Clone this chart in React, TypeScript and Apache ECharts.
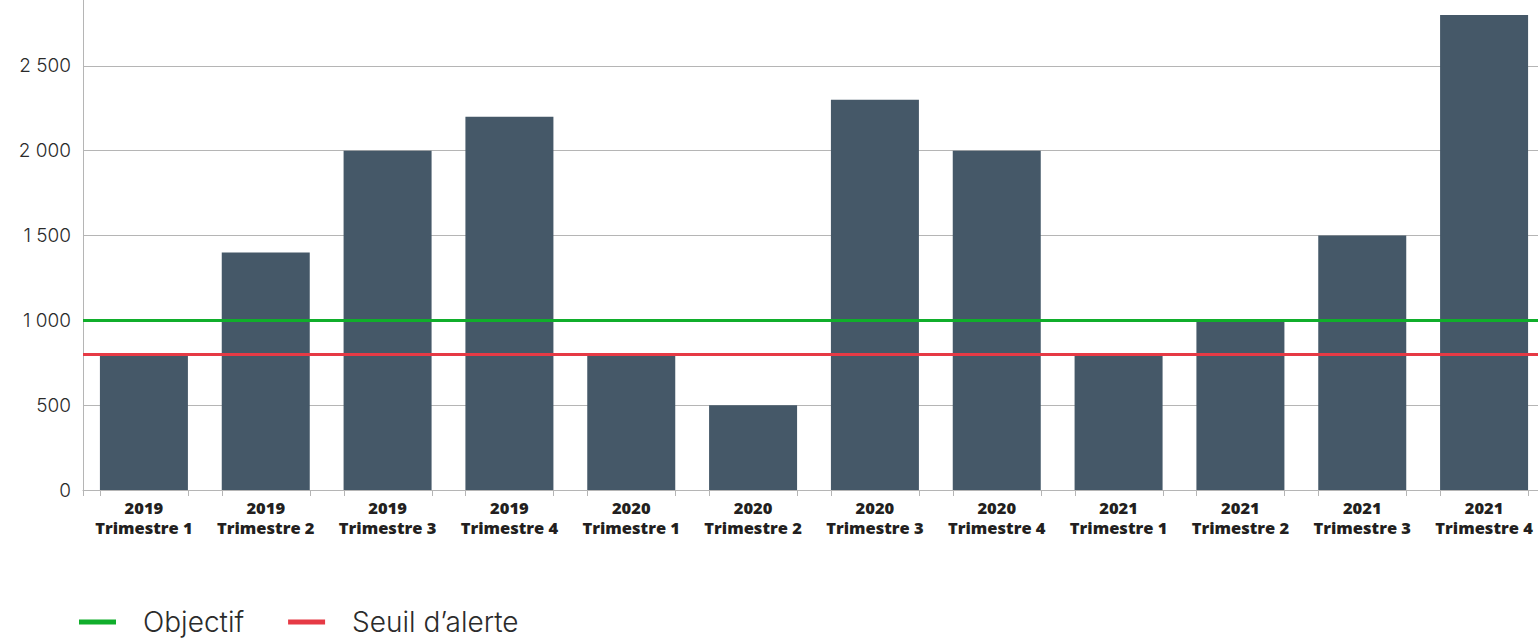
import React, { useEffect, useRef } from "react";
import * as echarts from "echarts";

const years = ["2019", "2019", "2019", "2019", "2020", "2020", "2020", "2020", "2021", "2021", "2021", "2021"];
const quarters = ["Trimestre 1", "Trimestre 2", "Trimestre 3", "Trimestre 4", "Trimestre 1", "Trimestre 2", "Trimestre 3", "Trimestre 4", "Trimestre 1", "Trimestre 2", "Trimestre 3", "Trimestre 4"];
const values = [800, 1400, 2000, 2200, 800, 500, 2300, 2000, 800, 1000, 1500, 2800];
const objectif = 1000;
const seuil = 800;
const legendNames = ["Objectif", "Seuil d\u2019alerte"];

const categories = years.map((y, i) => y + "\n" + quarters[i]);

const BAR_W = 88;
const SHIFT = 19;

export default function App() {
  const ref = useRef<HTMLDivElement>(null);
  useEffect(() => {
    document.body.style.overflow = "hidden";
    const chart = echarts.init(ref.current!, null, { renderer: "svg" });
    chart.setOption({
      animation: false,
      grid: { left: 83, right: 0, top: 0, bottom: 149, containLabel: false, outerBoundsMode: "none" },
      legend: {
        data: legendNames,
        left: 74,
        top: 622 + SHIFT - 14 - 5,
        itemWidth: 37,
        itemHeight: 5,
        itemGap: 44,
        icon: "rect",
        textStyle: {
          fontFamily: "Inter",
          fontWeight: 300,
          fontSize: 28,
          lineHeight: 28,
          color: "#2b2b2b",
          padding: [0, 0, 0, 22],
        },
      },
      xAxis: {
        type: "category",
        data: categories,
        axisLine: { show: true, lineStyle: { color: "#b5b5b5", width: 1 } },
        axisTick: { show: false },
        axisLabel: {
          interval: 0,
          margin: 7,
          fontFamily: "Open Sans",
          fontWeight: 800,
          fontSize: 16.5,
          lineHeight: 20,
          color: "#231f20",
        },
      },
      yAxis: {
        type: "value",
        min: 0,
        max: 3000,
        interval: 500,
        axisLine: { show: true, lineStyle: { color: "#b5b5b5", width: 1 } },
        axisTick: { show: false },
        splitLine: { lineStyle: { color: "#b5b5b5", width: 1 } },
        axisLabel: {
          margin: 12,
          showMaxLabel: false,
          fontFamily: "Inter",
          fontWeight: 300,
          fontSize: 19,
          color: "#2b2b2b",
          formatter: (v: number) => String(v).replace(/\B(?=(\d{3})+(?!\d))/g, " "),
        },
      },
      series: [
        {
          type: "bar",
          data: values,
          barWidth: BAR_W,
          itemStyle: { color: "#455868" },
          z: 2,
        },
        {
          name: legendNames[0],
          type: "line",
          data: [],
          itemStyle: { color: "#10ae2b" },
          lineStyle: { color: "#10ae2b" },
          markLine: {
            silent: true,
            symbol: "none",
            label: { show: false },
            lineStyle: { color: "#10ae2b", width: 3, type: "solid" },
            data: [{ yAxis: objectif }],
          },
          z: 5,
        },
        {
          name: legendNames[1],
          type: "line",
          data: [],
          itemStyle: { color: "#e63a45" },
          lineStyle: { color: "#e63a45" },
          markLine: {
            silent: true,
            symbol: "none",
            label: { show: false },
            lineStyle: { color: "#e63a45", width: 3, type: "solid" },
            data: [{ yAxis: seuil }],
          },
          z: 5,
        },
        {
          type: "custom",
          clip: false,
          silent: true,
          data: values.map((_, i) => [i, 0]),
          renderItem: (params: any, api: any) => {
            const p = api.coord([api.value(0), 0]);
            const h = BAR_W / 2;
            const mk = (x: number) => ({
              type: "line",
              shape: { x1: x, y1: p[1], x2: x, y2: p[1] + 6 },
              style: { stroke: "#b5b5b5", lineWidth: 1 },
            });
            const kids = [mk(Math.round(p[0] - h) + 0.5), mk(Math.round(p[0] + h) + 0.5)];
            if (api.value(0) === 0) {
              const x0 = Math.round(p[0] - api.size([1, 0])[0] / 2) + 0.5;
              kids.push(mk(x0));
            }
            return { type: "group", children: kids };
          },
          z: 1,
        },
      ],
    });
    return () => chart.dispose();
  }, []);
  return (
    <div
      ref={ref}
      style={{ position: "fixed", left: 0, top: -SHIFT, width: 1545, height: 639 + SHIFT, background: "#fff" }}
    />
  );
}
